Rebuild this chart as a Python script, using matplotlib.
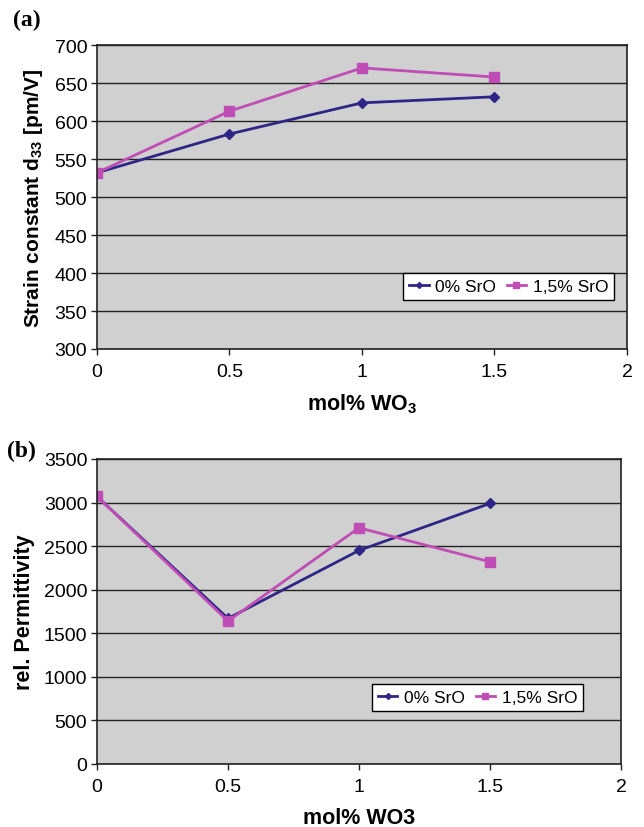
import matplotlib
matplotlib.use("Agg")
import matplotlib.pyplot as plt

plt.rcParams['font.family'] = ['Liberation Sans', 'DejaVu Sans']
plt.rcParams['mathtext.fontset'] = 'custom'
plt.rcParams['mathtext.rm'] = 'Liberation Sans'
plt.rcParams['mathtext.bf'] = 'Liberation Sans:bold'

# data
wo3 = [0, 0.5, 1, 1.5]
d33_0 = [532, 583, 624, 632]
d33_15 = [532, 613, 670, 658]
eps_0 = [3070, 1670, 2450, 2990]
eps_15 = [3070, 1640, 2710, 2320]
labels = ['0% SrO', '1,5% SrO']

navy = '#2e2687'
magenta = '#c04db6'
bg = '#d0d0d0'

fig = plt.figure(figsize=(6.44, 8.28), dpi=100)
ax1 = fig.add_axes([0.1506, 0.5773, 0.823, 0.367])
ax2 = fig.add_axes([0.1506, 0.0761, 0.8137, 0.3684])


def style(ax, ylim, ystep):
    ax.set_facecolor(bg)
    ax.set_xlim(0, 2)
    ax.set_ylim(*ylim)
    ax.set_xticks([0, 0.5, 1, 1.5, 2])
    ax.set_xticklabels(['0', '0.5', '1', '1.5', '2'])
    ax.set_yticks(range(ylim[0], ylim[1] + 1, ystep))
    ax.grid(True, axis='y', color='#222222', linewidth=1)
    ax.set_axisbelow(True)
    ax.tick_params(labelsize=14, length=4, width=1, color='#222222', pad=3)
    ax.tick_params(axis='x', pad=6)
    for s in ax.spines.values():
        s.set_color('#222222')
        s.set_linewidth(1.2)


def legend(ax, anchor):
    ax.legend(ncol=2, loc='upper left', bbox_to_anchor=anchor, fontsize=12.5,
              fancybox=False, edgecolor='black', framealpha=1, handlelength=1.1,
              handletextpad=0.4, columnspacing=0.6, borderpad=0.35, borderaxespad=0,
              markerscale=0.6)


ax1.plot(wo3, d33_0, color=navy, marker='D', markersize=5, linewidth=2, label=labels[0])
ax1.plot(wo3, d33_15, color=magenta, marker='s', markersize=7, linewidth=2, label=labels[1])
style(ax1, (300, 700), 50)
ax1.set_xlabel(r'mol% WO$_\mathbf{3}$', fontsize=15.5, fontweight='bold', labelpad=8)
ax1.set_ylabel(r'Strain constant d$_\mathbf{33}$ [pm/V]', fontsize=15, fontweight='bold', labelpad=7)
legend(ax1, (0.578, 0.251))

ax2.plot(wo3, eps_0, color=navy, marker='D', markersize=5, linewidth=2, label=labels[0])
ax2.plot(wo3, eps_15, color=magenta, marker='s', markersize=7, linewidth=2, label=labels[1])
style(ax2, (0, 3500), 500)
ax2.set_xlabel('mol% WO3', fontsize=15.5, fontweight='bold', labelpad=9)
ax2.set_ylabel('rel. Permittivity', fontsize=15.5, fontweight='bold', labelpad=6)
legend(ax2, (0.525, 0.262))

fig.text(0.02, 0.968, '(a)', family='Liberation Serif', fontsize=17, fontweight='bold')
fig.text(0.011, 0.448, '(b)', family='Liberation Serif', fontsize=17, fontweight='bold')

fig.savefig('out.png', dpi=100)
